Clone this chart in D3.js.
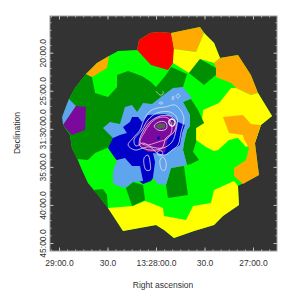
<!DOCTYPE html>
<html lang="en">
<head>
  <meta charset="UTF-8">
  <title>Temperature map with contours</title>
  <script src="https://d3js.org/d3.v7.min.js"></script>
  <style>
    html, body { margin: 0; padding: 0; background: #fff; }
    svg { display: block; }
    text { font-family: "Liberation Sans", sans-serif; font-size: 8.5px; fill: #333; }
    .axis .domain { stroke: #999; stroke-width: 1px; }
    .axis line { stroke: #ddd; stroke-width: 0.8px; }
  </style>
</head>
<body>
<script>
  // tick positions: RA in seconds east of 13:27:00, Dec in arcmin south of -31:00
  const raTicks = [120, 90, 60, 30, 0];
  const raLabels = ["29:00.0", "30.0", "13:28:00.0", "30.0", "27:00.0"];
  const decTicks = [20, 25, 30, 35, 40, 45];
  const decLabels = ["20:00.0", "25:00.0", "31:30:00.0", "35:00.0", "40:00.0", "45:00.0"];

  // map regions as [ra, dec] outlines
  const footprint = [[103.3,22.8],[96.5,21.36],[89.1,20.44],[83.5,19.78],[71.7,19.65],[70.5,18.33],[63.7,17.42],[58.1,17.28],[50.7,17.42],[32.8,16.63],[29.1,17.68],[24.1,18.73],[20.4,20.7],[9.3,20.31],[1.3,22.93],[-3.1,25.3],[-11.8,28.32],[-4.9,29.5],[-1.2,31.87],[-3.7,36.07],[9.3,37.51],[8.7,40.01],[18.6,41.46],[24.1,42.64],[36.5,43.43],[48.9,44.35],[55,43.3],[60,42.64],[80.4,43.43],[89.7,40.4],[95.9,38.7],[102.1,37.12],[105.8,35.41],[108.9,33.84],[112,32.52],[113.2,30.82],[117.5,29.5],[117.5,28.19],[113.8,26.09],[110.1,24.64]];
  const westGreen = [[103.3,22.8],[99.6,23.2],[97.7,25.3],[89.7,25.82],[84.1,24.51],[84.1,22.93],[77.3,22.41],[68.7,23.06],[63.1,23.85],[60,24.51],[53.8,22.93],[50.7,21.88],[40.8,22.8],[43.3,24.51],[50.7,25.17],[56.9,25.82],[63.7,27.53],[76.1,30.16],[90.3,32.52],[97.7,33.18],[102.1,34.1],[108.9,33.97],[112,32.52],[113.2,30.82],[117.5,29.5],[117.5,28.19],[113.8,26.09],[110.1,24.64]];
  const nwOrange = [[103.3,22.8],[96.5,21.36],[89.1,20.44],[90.3,22.01],[99.6,23.2]];
  const northRed = [[70.5,18.33],[63.7,17.42],[58.1,17.28],[50.7,17.42],[48.9,19.52],[49.5,21.36],[52.6,22.28],[63.1,21.62],[71.7,19.65]];
  const northOrange = [[50.7,17.42],[32.8,16.63],[30.3,17.42],[35.2,19.91],[48.9,19.52]];
  const northYellow = [[35.2,19.91],[30.3,17.42],[24.1,18.73],[20.4,20.7],[24.1,21.36],[32.8,20.83],[39.6,22.67],[49.5,21.36],[48.9,19.52]];
  const neGreen = [[32.8,20.83],[22.9,22.01],[22.9,22.93],[30.3,24.25],[39.6,22.67]];
  const neOrange = [[24.1,21.36],[20.4,20.7],[9.3,20.31],[1.3,22.93],[-3.1,25.3],[1.3,25.56],[10.5,24.64],[13.6,23.98],[22.9,23.2],[22.9,22.01]];
  const eastYellow = [[13.6,24.64],[10.5,24.64],[1.3,25.56],[-3.1,25.3],[-11.8,28.32],[-4.9,29.5],[-1.2,31.87],[4.3,32.39],[9.3,31.21],[14.8,31.47],[21.6,32.79],[24.1,32.92],[29.1,32.39],[35.2,31.47],[35.2,29.9],[30.3,29.24],[31.5,28.84],[30.9,27.53],[21,26.61]];
  const eastOrange = [[18.6,28.45],[6.2,28.19],[1.3,29.37],[-4.9,29.5],[-1.2,31.87],[-3.7,36.07],[6.2,37.25],[11.7,36.2],[11.7,35.15],[4.3,34.1],[2.5,32.52],[5.6,31.34],[6.2,30.82],[14.8,30.55]];
  const southYellow = [[89.7,40.4],[74.2,40.14],[66.8,39.49],[63.1,39.75],[55.7,40.4],[55,41.46],[41.4,41.98],[37.1,40.14],[26,39.75],[24.1,38.04],[11.7,36.86],[9.3,37.51],[8.7,40.01],[18.6,41.46],[24.1,42.64],[36.5,43.43],[48.9,44.35],[55,43.3],[60,42.64],[80.4,43.43]];
  const swGreen = [[78.6,37.78],[74.2,36.99],[68,37.38],[66.8,39.35],[74.8,40.14]];
  const swSliver = [[99,38.04],[92.8,37.91],[90.3,38.7],[89.7,40.4],[95.9,38.7]];
  const eastStrip = [[43.3,26.48],[38.4,26.09],[34,27.53],[30.3,29.24],[35.2,29.9],[35.2,31.73],[37.1,33],[33.4,34.1],[38.4,34.62],[40.8,34.76],[43.3,32.79],[42.7,31.87],[40.8,30.16],[39,29.63],[39,28.19]];
  const southGreen = [[50.7,35.15],[42.7,34.89],[40.2,38.7],[52.6,39.09],[53.8,37.38]];
  const coolMain = [[92.8,29.9],[88.5,29.11],[82.3,29.37],[79.2,27.14],[74.8,26.87],[71.7,27.79],[68,26.61],[62.5,26.74],[56.9,25.82],[49.5,24.64],[43.3,24.51],[37.7,25.95],[43.3,26.48],[39,28.19],[39,29.63],[40.8,30.16],[42.7,31.87],[43.3,32.79],[40.8,34.76],[50.7,35.15],[53.8,37.38],[58.8,37.25],[61.9,36.46],[76.1,31.47],[86.6,31.21]];
  const coldCore = [[76.1,29.11],[74.8,28.45],[71.1,28.45],[68.7,29.11],[65,28.19],[54.4,28.06],[49.5,28.45],[46.4,29.11],[42.1,29.5],[43.9,30.55],[45.2,32.13],[50.1,32.79],[54.4,33.44],[61.9,33.18],[60.6,34.36],[61.9,36.46],[63.1,36.86],[68,37.25],[79.2,35.41],[85.4,33.84],[89.7,32.52],[86.6,31.21],[82.3,30.82],[78,30.55],[80.4,29.76]];
  const coolLobe = [[86.6,35.54],[84.1,34.1],[79.2,33.84],[74.8,34.89],[69.9,34.89],[68,36.86],[74.2,36.99],[79.2,37.78],[86.6,37.25]];
  const centre = [[52.6,28.19],[49.5,28.58],[47,29.63],[47.6,30.42],[52.6,31.21],[54.4,33.05],[65,33.05],[71.1,32.13],[69.9,31.08],[65.6,29.11],[58.8,28.32]];
  const coldSpot1 = [[59.4,31.1],[58,30.95],[57.5,31.3],[59,31.5]];
  const coldSpot2 = [[49,30.4],[47.6,30.3],[47.4,30.7],[48.8,30.8]];
  const nwCool = [[113.8,26.09],[109.5,27],[117.5,29.5],[118.1,28.45]];
  const nwPurple = [[109.5,27],[103.3,27.14],[103.9,30.16],[112,30.82],[117.5,29.5],[113.2,28.19]];
  const peak = [[60.6,29.63],[57.5,29.24],[54.4,29.37],[54.4,29.9],[58.1,30.03]];
  const peak2 = [[50.6,29.1],[49.4,29],[49,29.35],[50.2,29.5]];

  // paint order matters, later regions sit on earlier ones
  const regions = [
    [footprint, "green"], [westGreen, "darkgreen"], [nwOrange, "orange"], [northRed, "red"],
    [northOrange, "orange"], [northYellow, "yellow"], [neGreen, "darkgreen"], [neOrange, "orange"],
    [eastYellow, "yellow"], [eastOrange, "orange"], [southYellow, "yellow"], [swGreen, "darkgreen"],
    [swSliver, "darkgreen"], [eastStrip, "darkgreen"], [southGreen, "darkgreen"], [coolMain, "sky"],
    [coldCore, "blue"], [coolLobe, "sky"], [centre, "purple"], [coldSpot1, "blue"], [coldSpot2, "blue"],
    [nwCool, "sky"], [nwPurple, "purple"], [peak, "peak"], [peak2, "peak"]
  ];

  // X-ray contours
  const contourOuter = [[64.3,27.79],[59.4,27.27],[54.4,27.14],[48.2,26.87],[44.5,27.66],[42.7,28.71],[44.5,30.42],[46.4,32.13],[50.1,32.79],[54.4,33.44],[59.4,33.18],[63.7,32.39],[68,32.52],[73,32.79],[77.3,32.13],[74.2,31.21],[69.9,30.16],[68,29.11]];
  const contourMid = [[59.4,27.92],[51.3,27.79],[47,28.58],[47.6,30.16],[50.1,31.73],[55.7,32.52],[62.5,32.39],[68,31.87],[72.4,32.26],[73.6,31.47],[68.7,30.16],[65,28.84]];
  const contourBody = [[69.9,31.21],[63.7,29.11],[57.5,28.32],[51.3,28.32],[47.6,29.11],[48.9,30.42],[53.8,31.21],[56.3,32.52],[63.7,32.79],[69.9,32.26]];
  const contourInner = [[63.7,29.37],[58.8,28.58],[52.6,28.58],[50.1,29.9],[52.6,31.21],[58.8,31.73],[66.2,32.13],[69.9,31.73],[67.4,30.55]];
  const peakRing = [[61.2,29.63],[57.5,29.05],[53.8,29.2],[53.6,30],[58.1,30.2]];
  const loopPeak = [[52,28.97],[50.1,28.71],[48.2,29.11],[49.5,29.63],[51.3,29.5]];
  const loopNe1 = [[47.6,25.69],[46.4,25.43],[45.2,25.69],[46.4,25.95]];
  const loopNe2 = [[50.1,25.95],[49.5,25.69],[48.9,25.95],[49.5,26.22]];
  const loopN = [[58.1,26.61],[56.9,26.48],[55.7,26.61],[56.9,26.74]];
  const loopS1 = [[57.5,34.1],[55.7,33.7],[53.8,34.36],[54.4,35.41],[56.3,35.41]];
  const loopS2 = [[59.4,33.18],[57.5,32.79],[55.7,33.18],[57.5,33.57]];
  const loopS3 = [[67.4,33.84],[65,33.44],[63.7,34.36],[63.7,35.41],[66.2,35.41]];
  const hook = [[60,25.04],[57.5,25.56],[55.7,25.43],[55.7,25.04]];

  const whiteContours = [contourOuter, contourMid, contourBody, peakRing, loopNe1, loopNe2, loopN, loopS1, loopS2, loopS3];
  const pinkContours = [contourInner];

  const width = 303, height = 297;
  const frame = { left: 50, right: 277, top: 16, bottom: 251 };

  const x = d3.scaleLinear().domain([120, 0]).range([59, 253]);
  const y = d3.scaleLinear().domain([20, 45]).range([52.7, 243]);

  const colour = d3.scaleOrdinal()
    .domain(["purple", "blue", "sky", "darkgreen", "green", "yellow", "orange", "red", "peak"])
    .range(["#7b0a9c", "#0000c8", "#5fa5ee", "#008f00", "#00ff00", "#ffff00", "#ffaa00", "#ff0000", "#56604a"]);

  const svg = d3.select("body").append("svg")
    .attr("width", width)
    .attr("height", height);

  svg.append("rect")
    .attr("x", frame.left)
    .attr("y", frame.top)
    .attr("width", frame.right - frame.left)
    .attr("height", frame.bottom - frame.top)
    .attr("fill", "#333333");

  const outline = d3.line().x(d => x(d[0])).y(d => y(d[1]));

  svg.append("g").selectAll("path")
    .data(regions)
    .enter().append("path")
    .attr("d", d => outline(d[0]) + "Z")
    .attr("fill", d => colour(d[1]));

  const smooth = d3.line().x(d => x(d[0])).y(d => y(d[1])).curve(d3.curveCatmullRomClosed);

  svg.append("g").selectAll("path")
    .data(whiteContours)
    .enter().append("path")
    .attr("d", smooth)
    .attr("fill", "none")
    .attr("stroke", "#e6dcf2")
    .attr("stroke-width", 0.8);

  svg.append("g").selectAll("path")
    .data(pinkContours)
    .enter().append("path")
    .attr("d", smooth)
    .attr("fill", "none")
    .attr("stroke", "#f0a0dc")
    .attr("stroke-width", 0.9);

  // the bright ring next to the peak
  svg.append("path")
    .attr("d", smooth(loopPeak))
    .attr("fill", "none")
    .attr("stroke", "#fff")
    .attr("stroke-width", 1.3);

  svg.append("path")
    .attr("d", d3.line().x(d => x(d[0])).y(d => y(d[1])).curve(d3.curveCatmullRom)(hook))
    .attr("fill", "none")
    .attr("stroke", "#e6dcf2")
    .attr("stroke-width", 0.7);

  // minor ticks
  const raMinor = d3.range(-10, 126, 5);
  const decMinor = d3.range(16, 47, 1);

  svg.append("g").attr("class", "axis")
    .attr("transform", `translate(0,${frame.bottom})`)
    .call(d3.axisBottom(x).tickValues(raMinor).tickSize(-1.5).tickFormat(""))
    .select(".domain").remove();
  svg.append("g").attr("class", "axis")
    .attr("transform", `translate(0,${frame.top})`)
    .call(d3.axisTop(x).tickValues(raMinor).tickSize(-1.5).tickFormat(""))
    .select(".domain").remove();
  svg.append("g").attr("class", "axis")
    .attr("transform", `translate(${frame.left},0)`)
    .call(d3.axisLeft(y).tickValues(decMinor).tickSize(-1.5).tickFormat(""))
    .select(".domain").remove();
  svg.append("g").attr("class", "axis")
    .attr("transform", `translate(${frame.right},0)`)
    .call(d3.axisRight(y).tickValues(decMinor).tickSize(-1.5).tickFormat(""))
    .select(".domain").remove();

  // major ticks and labels
  const xAxis = svg.append("g").attr("class", "axis")
    .attr("transform", `translate(0,${frame.bottom})`)
    .call(d3.axisBottom(x).tickValues(raTicks).tickSize(-3.5).tickPadding(9)
      .tickFormat((d, i) => raLabels[i]));
  xAxis.select(".domain").remove();
  xAxis.selectAll("text").attr("font-size", null).attr("font-family", null);

  svg.append("g").attr("class", "axis")
    .attr("transform", `translate(0,${frame.top})`)
    .call(d3.axisTop(x).tickValues(raTicks).tickSize(-3.5).tickFormat(""))
    .select(".domain").remove();

  const yAxis = svg.append("g").attr("class", "axis")
    .attr("transform", `translate(${frame.left},0)`)
    .call(d3.axisLeft(y).tickValues(decTicks).tickSize(-3.5).tickFormat((d, i) => decLabels[i]));
  yAxis.select(".domain").remove();
  yAxis.selectAll("text")
    .attr("x", null).attr("dy", null)
    .attr("text-anchor", "middle")
    .attr("transform", "translate(-4,0) rotate(-90)");

  svg.append("g").attr("class", "axis")
    .attr("transform", `translate(${frame.right},0)`)
    .call(d3.axisRight(y).tickValues(decTicks).tickSize(-3.5).tickFormat(""))
    .select(".domain").remove();

  svg.append("rect")
    .attr("x", frame.left)
    .attr("y", frame.top)
    .attr("width", frame.right - frame.left)
    .attr("height", frame.bottom - frame.top)
    .attr("fill", "none")
    .attr("stroke", "#999");

  svg.append("text")
    .attr("x", 163)
    .attr("y", 288)
    .attr("text-anchor", "middle")
    .text("Right ascension");

  svg.append("text")
    .attr("transform", "translate(20,133) rotate(-90)")
    .attr("text-anchor", "middle")
    .text("Declination");
</script>
</body>
</html>
